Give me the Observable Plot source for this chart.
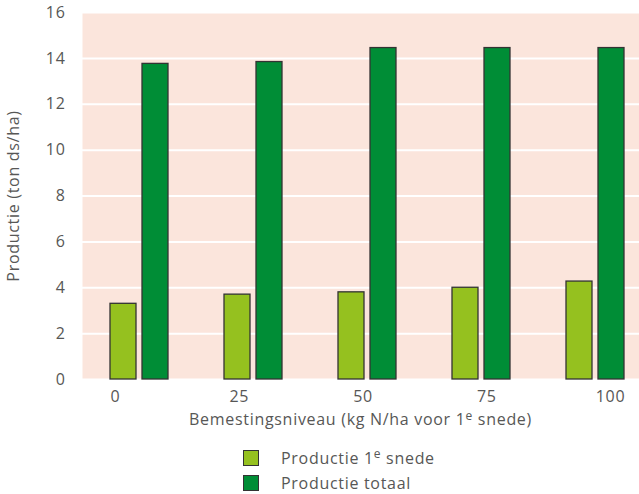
<!DOCTYPE html>
<html><head><meta charset="utf-8">
<script src="https://cdn.jsdelivr.net/npm/d3@7"></script>
<script src="https://cdn.jsdelivr.net/npm/@observablehq/plot@0.6"></script>
<style>
body{margin:0;width:639px;height:494px;overflow:hidden;background:#fff;font-family:"Open Sans","Noto Sans",sans-serif;color:#575756;letter-spacing:0.7px}
#chart svg,#axis svg{display:block;overflow:visible;max-width:none;letter-spacing:0.7px}
.xlabel{box-sizing:border-box;width:639px;padding-left:82px;text-align:center;font-size:16px;line-height:18px;height:18px;white-space:nowrap}
sup{font-size:0.75em;vertical-align:0;position:relative;top:-0.42em;line-height:0}
.legend{margin-top:17px;margin-left:243px}
.row{display:flex;align-items:center;height:25px;font-size:16px;line-height:20px;white-space:nowrap}
.sw{display:inline-block;width:14px;height:14px;border:1px solid #333;margin-right:22px;box-sizing:content-box;flex:none}
</style></head><body>
<div id="chart"></div>
<div id="axis"></div>
<div class="xlabel" id="xlabel"></div>
<div class="legend" id="legend"></div>
<script>
const levels = ["0","25","50","75","100"];
const levelValues = [0, 25, 50, 75, 100];
const seriesHtml = ["Productie 1<sup>e</sup> snede", "Productie totaal"];
const series = ["Productie 1e snede", "Productie totaal"];
const eersteSnede = [3.3, 3.7, 3.8, 4.0, 4.27];
const totaal = [13.76, 13.84, 14.45, 14.45, 14.45];
const yTicks = [0, 2, 4, 6, 8, 10, 12, 14, 16];
const colors = ["#95c11f", "#008d36"];
const yLabel = "Productie (ton ds/ha)";
const xLabelHtml = "Bemestingsniveau (kg N/ha voor 1<sup>e</sup> snede)";

const data1 = levels.map((l, i) => ({level: l, serie: series[0], value: eersteSnede[i]}));
const data2 = levels.map((l, i) => ({level: l, serie: series[1], value: totaal[i]}));
const font = {fontFamily: "'Open Sans', 'Noto Sans', sans-serif", fontSize: "16px", color: "#575756", background: "transparent", overflow: "visible", letterSpacing: "0.7px"};

const chart = Plot.plot({
  width: 639, height: 380,
  marginLeft: 82, marginRight: -13, marginTop: 12, marginBottom: 1,
  style: font,
  x: {domain: levels, paddingInner: 0.49, paddingOuter: 0.235, axis: null},
  y: {domain: [0, 16]},
  color: {domain: series, range: colors},
  marks: [
    Plot.frame({fill: "#fbe5dc", stroke: null}),
    Plot.gridY(yTicks, {stroke: "white", strokeOpacity: 1, strokeWidth: 2}),
    Plot.axisY(yTicks, {tickSize: 0, tickPadding: 17, label: yLabel, labelAnchor: "center", labelOffset: 75, labelArrow: "none"}),
    Plot.barY(data1, {x: "level", y: "value", fill: "serie", stroke: "#333", strokeWidth: 1.3, insetRight: 32}),
    Plot.barY(data2, {x: "level", y: "value", fill: "serie", stroke: "#333", strokeWidth: 1.3, insetLeft: 32})
  ]
});
document.getElementById("chart").append(chart);

const axis = Plot.plot({
  width: 639, height: 30,
  marginLeft: 115, marginRight: 29, marginTop: 0, marginBottom: 30,
  style: font,
  x: {domain: [0, 100]},
  marks: [Plot.axisX(levelValues, {tickSize: 0, tickPadding: 10, label: null})]
});
document.getElementById("axis").append(axis);

document.getElementById("xlabel").innerHTML = xLabelHtml;
const legend = document.getElementById("legend");
seriesHtml.forEach((s, i) => {
  const row = document.createElement("div");
  row.className = "row";
  row.innerHTML = `<span class="sw" style="background:${colors[i]}"></span><span>${s}</span>`;
  legend.append(row);
});
</script>
</body></html>
